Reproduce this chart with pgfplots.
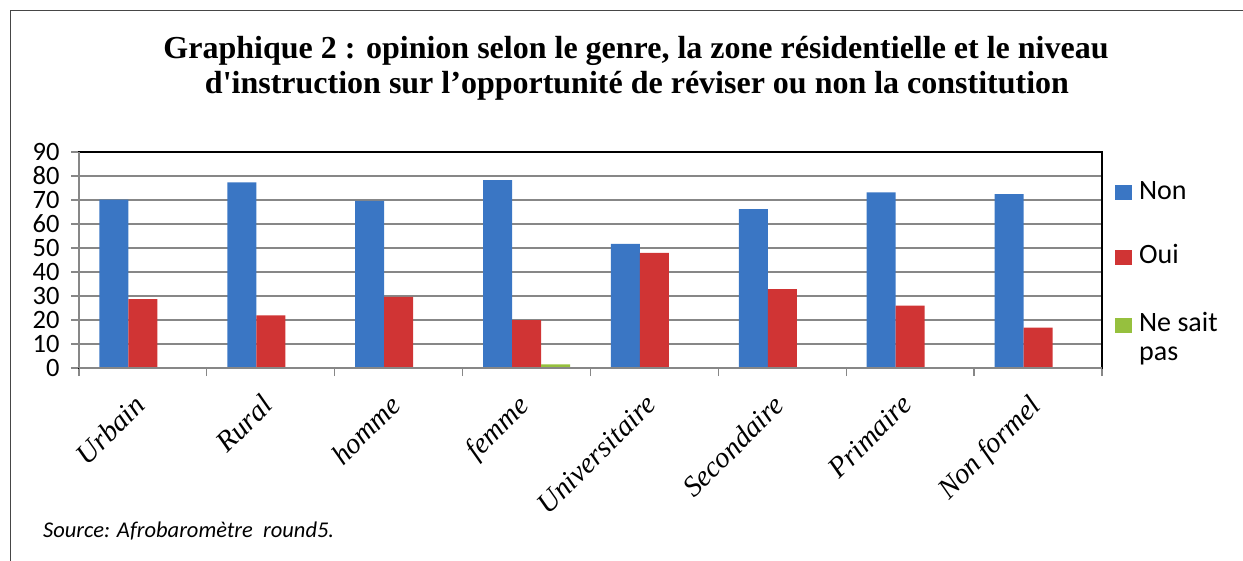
\documentclass[border=0pt]{standalone}
\usepackage{pgfplots}
\pgfplotsset{compat=1.18}
\usepackage{fontspec}
\setmainfont{Carlito}
\newfontfamily\tnr{Liberation Serif}
\definecolor{nonC}{RGB}{58,118,196}
\definecolor{ouiC}{RGB}{208,52,52}
\definecolor{nspC}{RGB}{150,192,62}
\definecolor{gridg}{RGB}{135,135,135}
\definecolor{frameg}{RGB}{70,70,70}
\begin{document}
\begin{tikzpicture}
\useasboundingbox (0pt,0pt) rectangle (1243pt,-560pt);
\draw[frameg, line width=1pt] (10pt,-565pt) -- (10pt,-10.5pt) -- (1250pt,-10.5pt);
\node[font=\tnr\bfseries\fontsize{32}{38}\selectfont, anchor=base] at (636pt,-58pt) {Graphique 2 : opinion selon le genre, la zone résidentielle et le niveau};
\node[font=\tnr\bfseries\fontsize{32}{38}\selectfont, anchor=base] at (637pt,-93pt) {d\textquotesingle instruction sur l’opportunité de réviser ou non la constitution};
\node[font=\itshape\fontsize{22.5}{26}\selectfont, anchor=base west, inner sep=0pt] at (43pt,-537pt) {Source: Afrobaromètre\ \ round5.};
\begin{axis}[
  at={(79pt,-368pt)}, anchor=south west,
  width=1023pt, height=216pt, scale only axis,
  xmin=0, xmax=8, ymin=0, ymax=90,
  ytick={0,10,...,90},
  xtick={0.5,1.5,...,7.5},
  xticklabels={Urbain,Rural,homme,femme,Universitaire,Secondaire,Primaire,Non formel},
  minor xtick={0,1,...,8},
  tick pos=left,
  major x tick style={draw=none},
  minor x tick style={gridg, line width=1.2pt},
  y tick style={gridg, line width=1.2pt},
  tick align=outside,
  major tick length=8pt, minor tick length=8pt,
  ymajorgrids, grid style={gridg, line width=1.4pt},
  axis line style={black, line width=1.6pt},
  /pgf/number format/assume math mode=true,
  yticklabel style={font=\fontsize{26.5}{30}\selectfont, xshift=-8pt},
  xticklabel style={font=\tnr\itshape\fontsize{29}{33}\selectfont, rotate=45, anchor=north east, xshift=-16pt, yshift=-1pt},
  ybar=0pt, bar width=29pt,
  legend style={draw=none, fill=none, at={(1.0127,0.875)}, anchor=north west,
    font=\fontsize{28}{32}\selectfont, row sep=40pt, column sep=5pt, inner sep=0pt,
    cells={anchor=base west}},
  legend image code/.code={\path[#1] (0pt,-1pt) rectangle (17pt,14pt);},
  clip=false,
]
\addplot[draw=none, fill=nonC] coordinates {(0.5,70.2) (1.5,77.4) (2.5,69.6) (3.5,78.3) (4.5,51.7) (5.5,66.2) (6.5,73.2) (7.5,72.5)};
\addplot[draw=none, fill=ouiC] coordinates {(0.5,28.7) (1.5,21.9) (2.5,29.6) (3.5,20.0) (4.5,48.0) (5.5,32.9) (6.5,26.0) (7.5,16.8)};
\addplot[draw=none, fill=nspC] coordinates {(0.5,0.4) (1.5,0.4) (2.5,0.4) (3.5,1.5) (4.5,0.0) (5.5,0.4) (6.5,0.4) (7.5,0.4)};
\legend{Non,Oui,{\begin{tabular}[t]{@{}l@{}}Ne sait\\[-3pt]pas\end{tabular}}}
\draw[gridg, line width=1.4pt] (rel axis cs:0,0) -- (rel axis cs:0,1);
\draw[gridg, line width=1.4pt] (rel axis cs:0,0) -- (rel axis cs:1,0);
\end{axis}
\end{tikzpicture}
\end{document}
